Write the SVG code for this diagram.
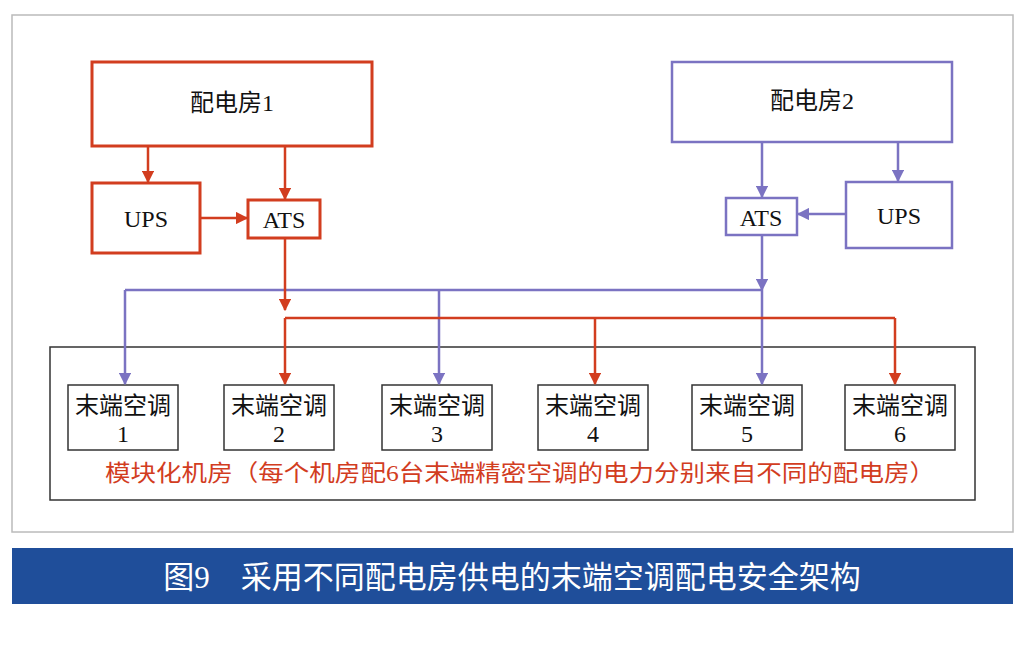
<svg xmlns="http://www.w3.org/2000/svg" width="1027" height="653" viewBox="0 0 1027 653">
<style>
.r{fill:#fff;stroke:#d23d1f;stroke-width:3}
.b{fill:#fff;stroke:#7b73c2;stroke-width:2.5}
.ac{fill:#fff;stroke:#333;stroke-width:1.5}
.t{font-family:"Liberation Serif","Noto Sans CJK SC",serif;font-size:24px;fill:#111;text-anchor:middle}
.rl{stroke:#d23d1f;stroke-width:2.5;fill:none}
.bl{stroke:#7b73c2;stroke-width:2.5;fill:none}
</style>
<defs>
<marker id="ar" viewBox="0 0 10 10" refX="9" refY="5" markerWidth="5" markerHeight="5" orient="auto"><path d="M0,0L10,5L0,10z" fill="#d23d1f"/></marker>
<marker id="ab" viewBox="0 0 10 10" refX="9" refY="5" markerWidth="5" markerHeight="5" orient="auto"><path d="M0,0L10,5L0,10z" fill="#7b73c2"/></marker>
</defs>
<rect width="1027" height="653" fill="#fff"/>
<rect x="12" y="15" width="1001" height="517" fill="none" stroke="#bbb" stroke-width="1.5"/>
<g id="room"><rect x="50" y="347" width="925" height="153" fill="none" stroke="#333" stroke-width="1.5"/>
<text x="520" y="481" class="t" style="fill:#d23d1f;font-size:23px" textLength="830" lengthAdjust="spacingAndGlyphs">模块化机房（每个机房配6台末端精密空调的电力分别来自不同的配电房）</text></g>
<g id="pd1"><rect class="r" x="92" y="62" width="280" height="84"/><text class="t" x="232" y="111">配电房1</text></g>
<g id="ups1"><rect class="r" x="92" y="183" width="108" height="70"/><text class="t" x="146" y="227">UPS</text></g>
<g id="ats1"><rect class="r" x="248" y="200" width="72" height="38"/><text class="t" x="284" y="228">ATS</text></g>
<g id="pd2"><rect class="b" x="672" y="62" width="280" height="80"/><text class="t" x="812" y="109">配电房2</text></g>
<g id="ups2"><rect class="b" x="846" y="182" width="106" height="66"/><text class="t" x="899" y="224">UPS</text></g>
<g id="ats2"><rect class="b" x="726" y="198" width="71" height="37"/><text class="t" x="761" y="226">ATS</text></g>
<g id="acs">
<rect class="ac" x="68" y="385" width="110" height="65"/><text class="t" x="123" y="414">末端空调</text><text class="t" x="123" y="442">1</text>
<rect class="ac" x="224" y="385" width="110" height="65"/><text class="t" x="279" y="414">末端空调</text><text class="t" x="279" y="442">2</text>
<rect class="ac" x="382" y="385" width="110" height="65"/><text class="t" x="437" y="414">末端空调</text><text class="t" x="437" y="442">3</text>
<rect class="ac" x="538" y="385" width="110" height="65"/><text class="t" x="593" y="414">末端空调</text><text class="t" x="593" y="442">4</text>
<rect class="ac" x="692" y="385" width="110" height="65"/><text class="t" x="747" y="414">末端空调</text><text class="t" x="747" y="442">5</text>
<rect class="ac" x="845" y="385" width="110" height="65"/><text class="t" x="900" y="414">末端空调</text><text class="t" x="900" y="442">6</text>
</g>
<g id="connectors">
<path class="rl" d="M148,146V182" marker-end="url(#ar)"/>
<path class="rl" d="M285,146V199" marker-end="url(#ar)"/>
<path class="rl" d="M200,218H247" marker-end="url(#ar)"/>
<path class="bl" d="M762,142V197" marker-end="url(#ab)"/>
<path class="bl" d="M898,142V181" marker-end="url(#ab)"/>
<path class="bl" d="M846,214H798" marker-end="url(#ab)"/>
<path class="bl" d="M125,290H762"/>
<path class="bl" d="M762,235V290" marker-end="url(#ab)"/>
<path class="bl" d="M125,290V384" marker-end="url(#ab)"/>
<path class="bl" d="M439,290V384" marker-end="url(#ab)"/>
<path class="bl" d="M762,290V384" marker-end="url(#ab)"/>
<path class="rl" d="M285,238V310" marker-end="url(#ar)"/>
<path class="rl" d="M285,318H895"/>
<path class="rl" d="M285,318V384" marker-end="url(#ar)"/>
<path class="rl" d="M595,318V384" marker-end="url(#ar)"/>
<path class="rl" d="M895,318V384" marker-end="url(#ar)"/>
</g>
<rect x="12" y="548" width="1001" height="56" fill="#1f4e9a"/>
<text x="512" y="588" class="t" style="fill:#fff;font-size:31px">图9　采用不同配电房供电的末端空调配电安全架构</text>
</svg>
